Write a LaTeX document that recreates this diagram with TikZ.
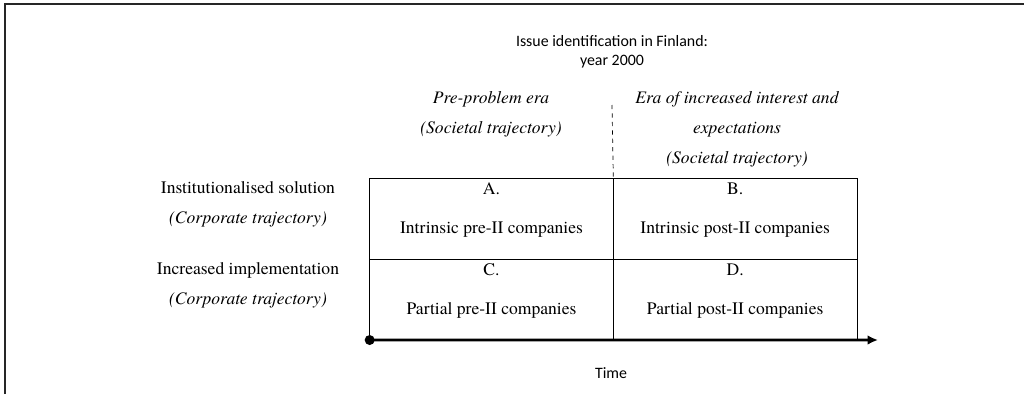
\documentclass[tikz,border=0pt]{standalone}
\usepackage{fontspec}
\setmainfont{texgyretermes}[Extension=.otf, UprightFont=*-regular, ItalicFont=*-italic, BoldFont=*-bold, BoldItalicFont=*-bolditalic]
\newfontfamily\calibri{Carlito}
\usetikzlibrary{arrows.meta,positioning}
\tikzstyle{cell} = [rectangle, draw, line width=0.6pt, minimum width=6.09cm, minimum height=2.025cm, inner sep=0pt, outer sep=0pt]
\tikzstyle{celltext} = [font=\fontsize{12.5}{21.3}\selectfont, align=center]
\tikzstyle{era} = [font=\fontsize{12.5}{21.3}\selectfont\itshape, align=center]
\tikzstyle{note} = [font=\calibri\fontsize{11.3}{13.5}\selectfont, align=center]
\tikzstyle{dot} = [circle, fill, minimum size=0.25cm, inner sep=0pt]
\tikzstyle{axis} = [draw, line width=2pt, -{Latex[length=2.6mm, width=2.4mm]}]
\tikzstyle{divider} = [draw, dashed, line width=0.5pt]

\begin{document}
\begin{tikzpicture}[x=0.025cm, y=-0.025cm]
    \useasboundingbox (0,0) rectangle (1024,394);
    \draw[line width=1.2pt, black!85] (5,394) -- (5,4) -- (1024,4);
    % Place nodes
    \node [note] (issue) at (612,52) {Issue identification in Finland:\\year 2000};
    \node [era] (pre) at (491,114) {Pre-problem era\\(Societal trajectory)};
    \node [era] (post) at (737,129) {Era of increased interest and\\expectations\\(Societal trajectory)};
    \node [celltext] (inst) at (248,204.5) {Institutionalised solution\\\textit{(Corporate trajectory)}};
    \node [celltext] (impl) at (248,285.5) {Increased implementation\\\textit{(Corporate trajectory)}};
    \node [cell] (cellA) at (491.5,218.5) {};
    \node [cell, right=0pt of cellA] (cellB) {};
    \node [cell, below=0pt of cellA] (cellC) {};
    \node [cell, right=0pt of cellC] (cellD) {};
    \node [celltext, below=0pt of cellA.north] (labA) {A.};
    \node [celltext, below=0pt of cellB.north] (labB) {B.};
    \node [celltext, below=0pt of cellC.north] (labC) {C.};
    \node [celltext, below=0pt of cellD.north] (labD) {D.};
    \node [celltext, below=0.42cm of labA] (txtA) {Intrinsic pre-II companies};
    \node [celltext, below=0.42cm of labB] (txtB) {Intrinsic post-II companies};
    \node [celltext, below=0.42cm of labC] (txtC) {Partial pre-II companies};
    \node [celltext, below=0.42cm of labD] (txtD) {Partial post-II companies};
    \node [dot] (start) at (cellC.south west) {};
    \coordinate (tend) at (878,340);
    \coordinate (split) at (612,105);
    \node [note] (time) at (611,373) {Time};
    % Draw edges
    \path [divider] (split) -- (cellA.north east);
    \path [axis] (start.center) -- (tend);
\end{tikzpicture}
\end{document}
